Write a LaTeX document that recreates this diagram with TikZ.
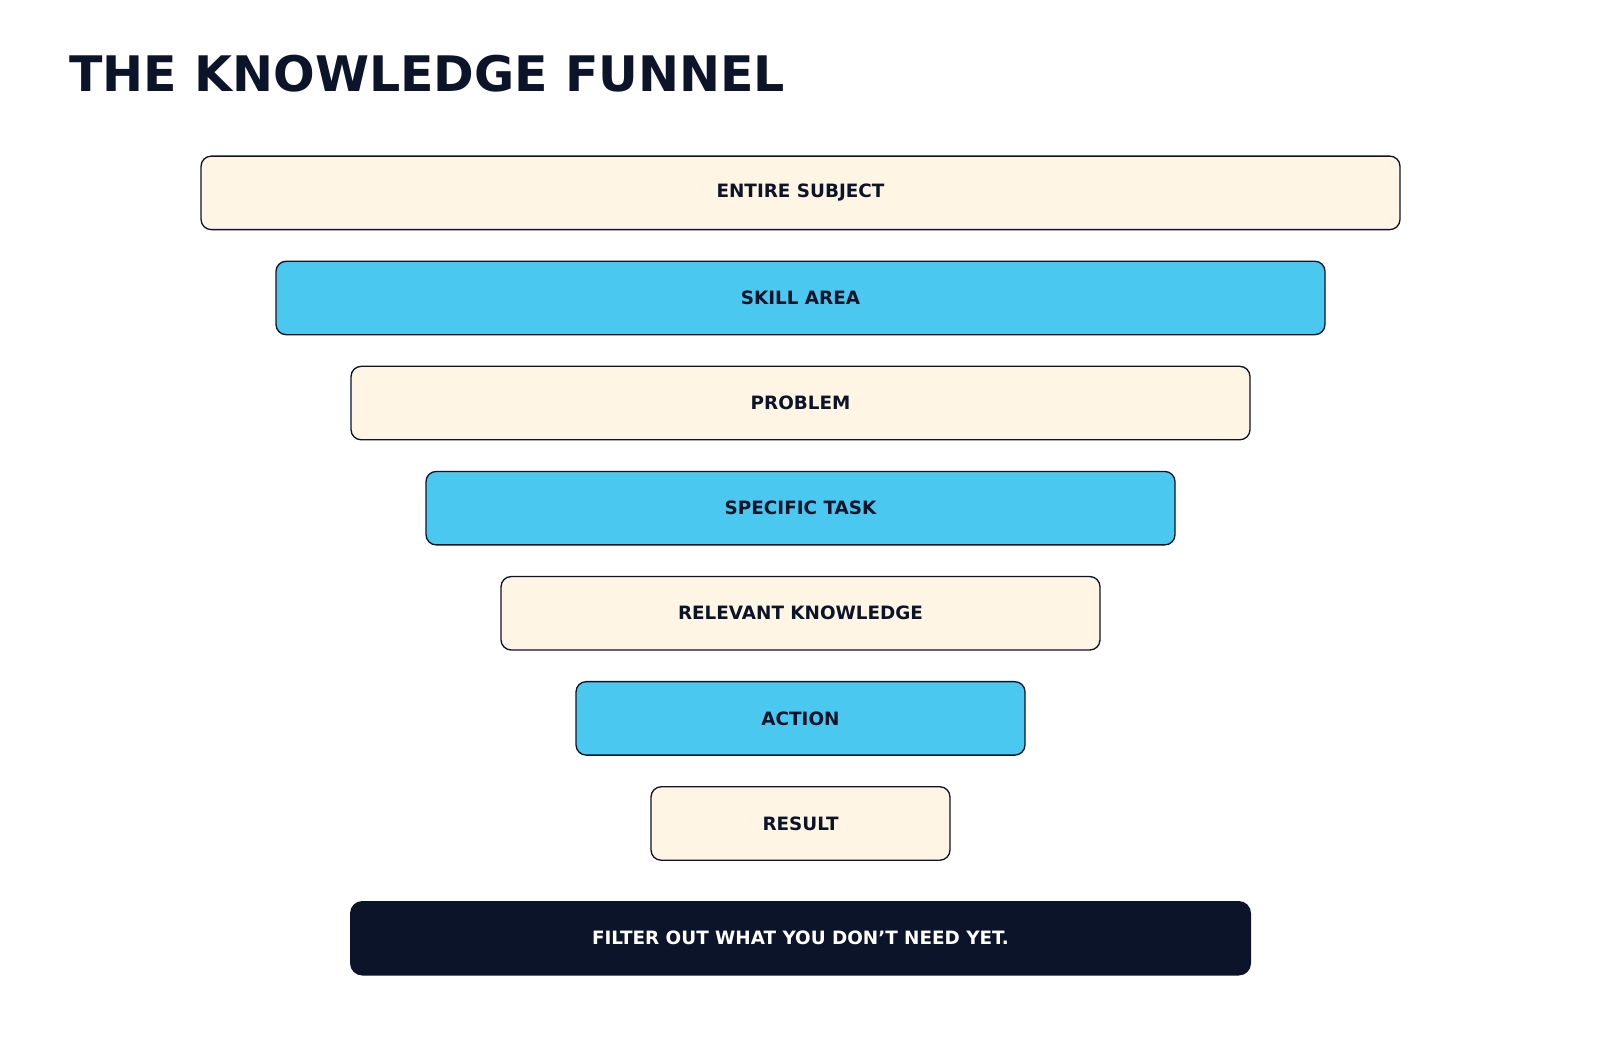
\documentclass[tikz,border=0pt]{standalone}
\usepackage{fontspec}
\setmainfont{DejaVu Sans}
\usetikzlibrary{positioning}
\definecolor{cream}{HTML}{FFF5E4}
\definecolor{sky}{HTML}{4BC8F0}
\definecolor{ink}{HTML}{0C1429}
\tikzset{
  layer/.style={draw=ink,line width=1.3pt,rounded corners=10pt,minimum height=72pt,
    inner sep=0pt,font=\bfseries\fontsize{18}{20}\selectfont,text=ink},
  creamLayer/.style={layer,fill=cream},
  skyLayer/.style={layer,fill=sky},
  footer/.style={fill=ink,rounded corners=12pt,minimum height=73pt,minimum width=883pt,
    inner sep=0pt,font=\bfseries\fontsize{18}{20}\selectfont,text=white},
}
\begin{document}
\begin{tikzpicture}[x=1pt,y=-1pt]
\useasboundingbox (0,0) rectangle (1568,1029);

% title
\node[anchor=base west,font=\bfseries\fontsize{48}{52}\selectfont,text=ink,inner sep=0pt]
  (title) at (68,90) {THE KNOWLEDGE FUNNEL};

% funnel layers
\foreach [count=\i] \txt/\w/\sty in {ENTIRE SUBJECT/1175/creamLayer,SKILL AREA/1028/skyLayer,
  PROBLEM/881/creamLayer,SPECIFIC TASK/734/skyLayer,RELEVANT KNOWLEDGE/587/creamLayer,
  ACTION/440/skyLayer,RESULT/293/creamLayer} {
  \node[\sty,minimum width=\w pt] (L\i) at (784.5,{189+103*(\i-1)}) {\txt};
}

% footer
\node[footer] (note) at (784.5,919.5) {FILTER OUT WHAT YOU DON{\char"27}T NEED YET.};
\end{tikzpicture}
\end{document}
